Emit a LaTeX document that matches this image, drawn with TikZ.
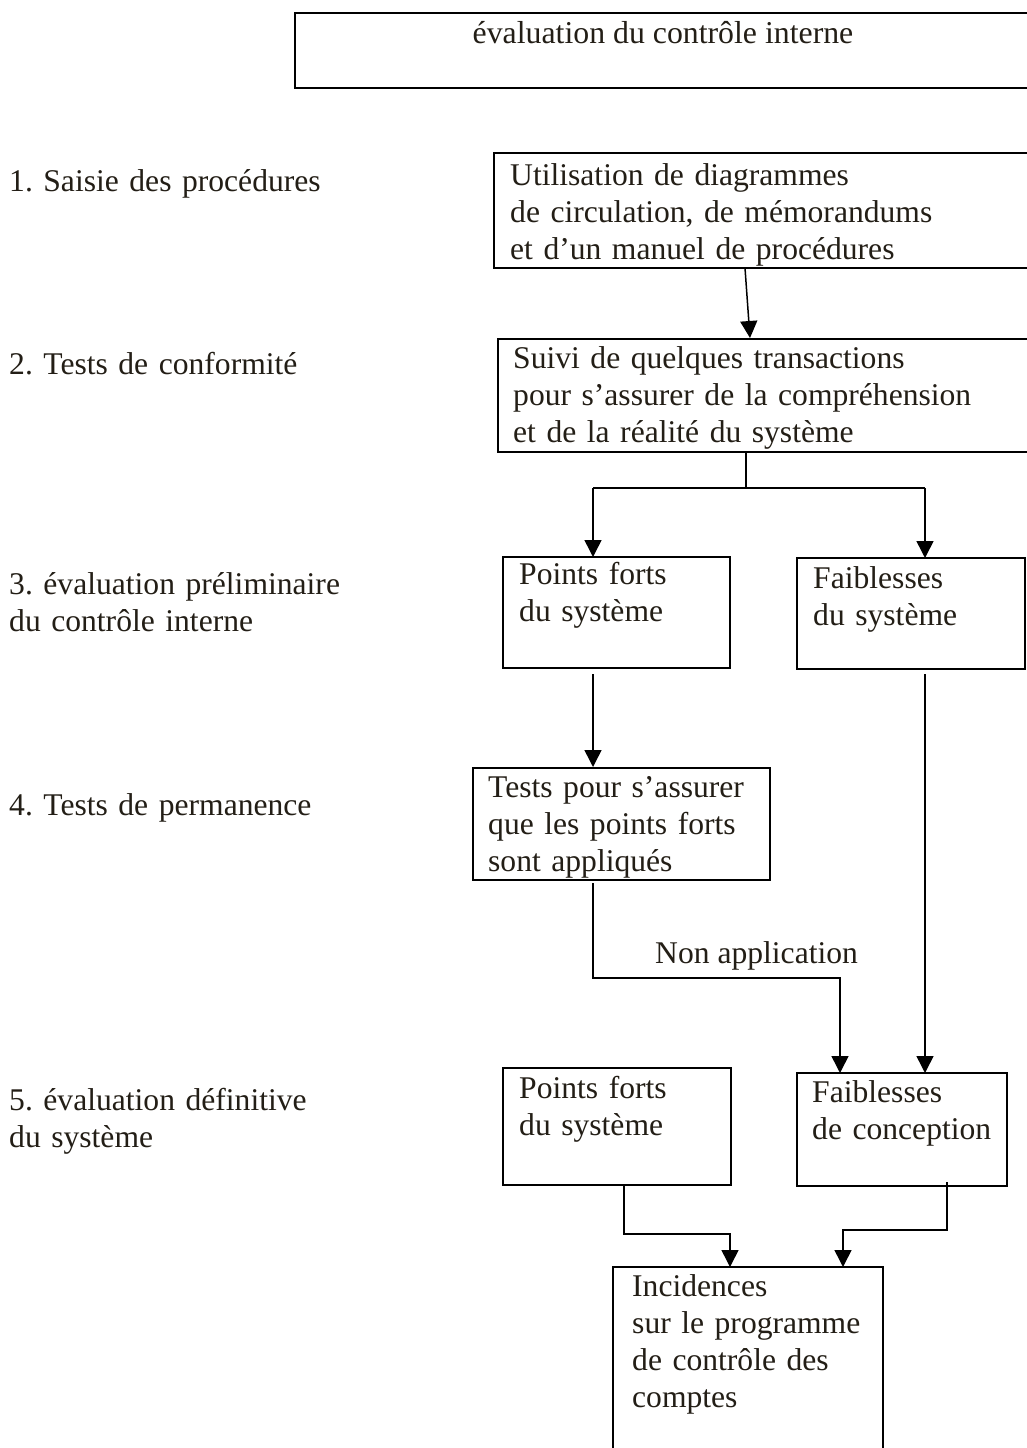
\documentclass[tikz,border=0pt]{standalone}
\usepackage{fontspec}
\setmainfont{Liberation Serif}
\usetikzlibrary{arrows.meta,calc}
\frenchspacing
\definecolor{ink}{RGB}{35,30,22}
\tikzset{
  box/.style={draw=black, line width=2pt, inner sep=0pt, outer sep=0pt, anchor=north west},
  txt/.style={text=ink, font=\fontsize{31.6}{37}\selectfont\frenchspacing, align=left, inner sep=0pt, anchor=base west, text width=#1},
  txt/.default=500pt,
  conn/.style={draw=black, line width=1.5pt},
  arr/.style={conn, -{Triangle[width=17pt,length=17pt]}},
}
\begin{document}
\begin{tikzpicture}[x=1pt,y=-1pt]
\useasboundingbox (0,0) rectangle (1027,1448);
\fill[white] (0,0) rectangle (1027,1448);
\clip (0,0) rectangle (1027,1448);

% top box
\node[box, minimum width=760pt, minimum height=75pt] (top) at (295,13) {};
\node[text=ink, font=\fontsize{31.8}{37}\selectfont, inner sep=0pt, anchor=base] (toptxt) at (663,43) {évaluation du contrôle interne};

% left labels
\node[txt] (l1) at (9,191) {1. Saisie des procédures};
\node[txt] (l2) at (9,374) {2. Tests de conformité};
\node[txt] (l3) at (9,594) {3. évaluation préliminaire\\du contrôle interne};
\node[txt] (l4) at (9,815) {4. Tests de permanence};
\node[txt] (l5) at (9,1110) {5. évaluation définitive\\du système};

% boxes
\node[box, minimum width=560pt, minimum height=115pt] (b1) at (494,153) {};
\node[txt] (t1) at (510,185) {Utilisation de diagrammes\\de circulation, de mémorandums\\et d’un manuel de procédures};

\node[box, minimum width=560pt, minimum height=113pt] (b2) at (498,339) {};
\node[txt] (t2) at (513,368) {Suivi de quelques transactions\\pour s’assurer de la compréhension\\et de la réalité du système};

\node[box, minimum width=227pt, minimum height=111pt] (b3) at (503,557) {};
\node[txt] (t3) at (519,584) {Points forts\\du système};

\node[box, minimum width=228pt, minimum height=111pt] (b4) at (797,558) {};
\node[txt] (t4) at (813,588) {Faiblesses\\du système};

\node[box, minimum width=297pt, minimum height=112pt] (b5) at (473,768) {};
\node[txt] (t5) at (488,797) {Tests pour s’assurer\\que les points forts\\sont appliqués};

\node[box, minimum width=228pt, minimum height=117pt] (b6) at (503,1068) {};
\node[txt] (t6) at (519,1098) {Points forts\\du système};

\node[box, minimum width=210pt, minimum height=113pt] (b7) at (797,1073) {};
\node[txt] (t7) at (812,1102) {Faiblesses\\de conception};

\node[box, minimum width=270pt, minimum height=220pt] (b8) at (613,1267) {};
\node[txt] (t8) at (632,1296) {Incidences\\sur le programme\\de contrôle des\\comptes};

% connectors
\draw[arr] ($(b1.south west)+(251,0)$) -- ($(b2.north west)+(252,-1)$);

\coordinate (split) at ($(b2.south west)+(248,36)$);
\draw[conn] ($(b2.south west)+(248,0)$) -- (split);
\draw[conn] (split -| b3.south west) ++(90,0) coordinate (sl) -- (split);
\draw[conn] (split) -- ($(split -| b4.south west)+(128,0)$) coordinate (sr);
\draw[arr] (sl) -- (sl |- b3.north);
\draw[arr] (sr) -- (sr |- b4.north);

\draw[arr] ($(b3.south west)+(90,6)$) -- ($(b5.north west)+(120,-1)$);
\draw[arr] ($(b4.south west)+(128,5)$) coordinate (fw) -- (fw |- b7.north);

\coordinate (na) at ($(b5.south west)+(120,98)$);
\draw[arr] ($(b5.south west)+(120,3)$) -- (na) -- ($(na -| b7.north west)+(43,0)$) coordinate (nb) -- (nb |- b7.north);
\node[text=ink, font=\fontsize{31.6}{37}\selectfont, inner sep=0pt, anchor=base west] (nalab) at (655,963) {Non application};

\coordinate (pa) at ($(b6.south west)+(121,49)$);
\draw[arr] ($(b6.south west)+(121,0)$) -- (pa) -- ($(pa -| b8.north west)+(117,0)$) coordinate (pb) -- (pb |- b8.north);

\coordinate (fa) at ($(b7.south west)+(150,44)$);
\draw[arr] ($(b7.south west)+(150,-4)$) -- (fa) -- ($(fa -| b8.north west)+(230,0)$) coordinate (fb) -- (fb |- b8.north);
\end{tikzpicture}
\end{document}
